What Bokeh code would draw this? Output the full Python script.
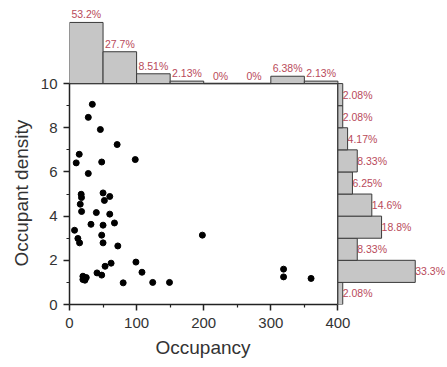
from bokeh.plotting import figure
from bokeh.models import ColumnDataSource, Range1d, FixedTicker, Title
from bokeh.core.properties import value
from bokeh.embed import file_html
from bokeh.resources import INLINE

# ---- data ----
occupancy = [34, 28, 46, 71, 14.5, 10, 48, 98, 28, 17.4, 17.9, 50, 60, 52, 16, 18, 40, 60,
             67, 32, 50, 7.5, 12.5, 15, 48, 50, 72, 99, 62, 53, 108, 41, 48, 20, 25, 20, 23,
             80, 124, 149, 319, 319, 360, 198]
density = [9.06, 8.47, 7.92, 7.24, 6.8, 6.41, 6.45, 6.56, 5.93, 4.99, 4.84, 5.05, 4.89, 4.71,
           4.54, 4.21, 4.16, 4.09, 3.69, 3.63, 3.59, 3.36, 2.99, 2.79, 3.14, 2.79, 2.65, 1.92,
           1.87, 1.73, 1.46, 1.43, 1.33, 1.28, 1.22, 1.13, 1.1, 0.98, 1.0, 1.0, 1.6, 1.25,
           1.18, 3.14]

x_bin_edges = [0, 50, 100, 150, 200, 250, 300, 350, 400]
x_hist_pct = [53.2, 27.7, 8.51, 2.13, 0, 0, 6.38, 2.13]
y_bin_edges = [0, 1, 2, 3, 4, 5, 6, 7, 8, 9, 10]
y_hist_pct = [2.08, 33.3, 8.33, 18.8, 14.6, 6.25, 8.33, 4.17, 2.08, 2.08]

x_ticks = [0, 100, 200, 300, 400]
x_minor = [50, 150, 250, 350]
y_ticks = [0, 2, 4, 6, 8, 10]
y_minor = [1, 3, 5, 7, 9]
x_title = "Occupancy"
y_title = "Occupant density"

# ---- layout constants ----
X_MAX, Y_MAX = 400, 10
TOP_SCALE = 0.052     # y units per percent
RIGHT_SCALE = 3.46    # x units per percent
FONT = "Liberation Sans"
BAR_FILL = "#c6c6c6"
BAR_LINE = "#3a3a3a"
PCT_COLOR = "#b94a5a"

p = figure(width=447, height=367, x_range=Range1d(0, 563.3), y_range=Range1d(0, 13.76),
           output_backend="svg", toolbar_location=None, title=None,
           min_border_left=69, min_border_right=0, min_border_top=0, min_border_bottom=63)
p.grid.visible = False
p.outline_line_color = None

for ax, ticks, minor, bnd in ((p.xaxis[0], x_ticks, x_minor, (0, X_MAX)),
                              (p.yaxis[0], y_ticks, y_minor, (0, Y_MAX))):
    ax.ticker = FixedTicker(ticks=ticks, minor_ticks=minor)
    ax.bounds = bnd
    ax.axis_line_color = "#222222"
    ax.axis_line_width = 1.5
    ax.major_tick_line_color = "#222222"
    ax.major_tick_line_width = 1.5
    ax.minor_tick_line_color = "#222222"
    ax.minor_tick_line_width = 1.2
    ax.major_tick_out = 6
    ax.major_tick_in = 0
    ax.minor_tick_out = 3
    ax.minor_tick_in = 0
    ax.major_label_text_font = FONT
    ax.major_label_text_font_size = "15px"
    ax.major_label_text_color = "#333333"
p.xaxis.major_label_standoff = 7
p.yaxis.major_label_standoff = 6

# axis titles, positioned under / beside the bounded axes
p.add_layout(Title(text=x_title, align="left", offset=86, vertical_align="middle",
                   text_font=FONT, text_font_size="19px", text_font_style="normal",
                   text_color="#333333"), "below")
p.add_layout(Title(text=y_title, align="left", offset=38, vertical_align="middle",
                   text_font=FONT, text_font_size="19px", text_font_style="normal",
                   text_color="#333333"), "left")

# frame box (top and right edges)
p.segment(x0=[0, X_MAX], y0=[Y_MAX, 0], x1=[X_MAX, X_MAX], y1=[Y_MAX, Y_MAX],
          line_color="#222222", line_width=1.5)

# top histogram
top_src = ColumnDataSource(dict(
    left=x_bin_edges[:-1], right=x_bin_edges[1:],
    bottom=[Y_MAX] * len(x_hist_pct),
    top=[Y_MAX + v * TOP_SCALE for v in x_hist_pct],
    xc=[(a + b) / 2 for a, b in zip(x_bin_edges[:-1], x_bin_edges[1:])],
    lab=[f"{v:.3g}%" for v in x_hist_pct]))
p.quad(left="left", right="right", bottom="bottom", top="top", source=top_src,
       fill_color=BAR_FILL, line_color=BAR_LINE, line_width=1)
p.text(x="xc", y="top", text="lab", source=top_src, text_align="center",
       text_baseline="bottom", y_offset=-2, text_font=value(FONT),
       text_font_size="10.5px", text_color=PCT_COLOR)

# right histogram
right_src = ColumnDataSource(dict(
    left=[X_MAX] * len(y_hist_pct),
    right=[X_MAX + v * RIGHT_SCALE for v in y_hist_pct],
    bottom=y_bin_edges[:-1], top=y_bin_edges[1:],
    yc=[(a + b) / 2 for a, b in zip(y_bin_edges[:-1], y_bin_edges[1:])],
    lab=[f"{v:.3g}%" for v in y_hist_pct]))
p.quad(left="left", right="right", bottom="bottom", top="top", source=right_src,
       fill_color=BAR_FILL, line_color=BAR_LINE, line_width=1)
p.text(x="right", y="yc", text="lab", source=right_src, text_align="left",
       text_baseline="middle", x_offset=0, text_font=value(FONT),
       text_font_size="10.5px", text_color=PCT_COLOR)

# scatter
p.scatter(occupancy, density, size=6, color="black")

open("out.html", "w").write(file_html(p, INLINE))
